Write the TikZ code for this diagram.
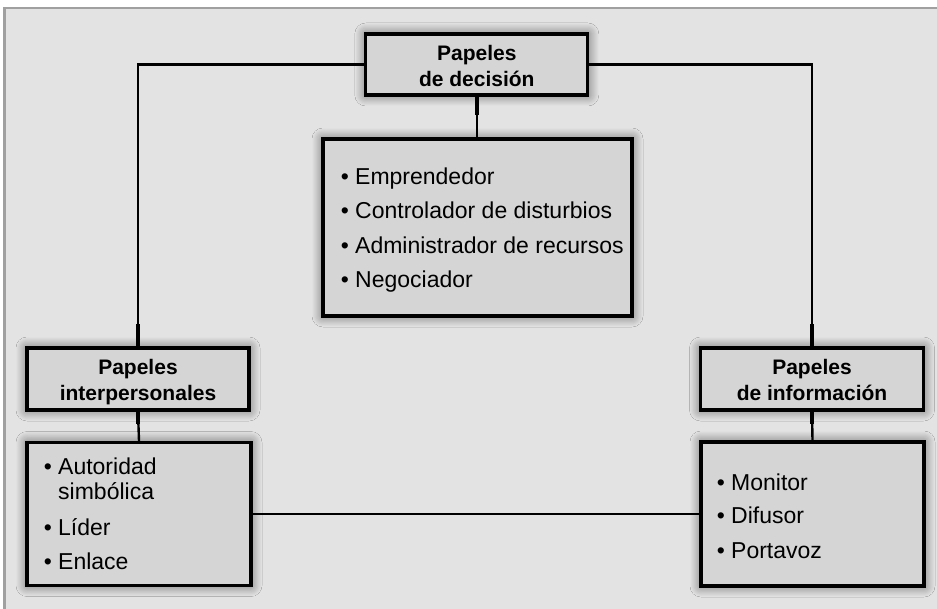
\documentclass[tikz,border=0pt]{standalone}
\usepackage{fontspec}
\setmainfont{Liberation Sans}
\usetikzlibrary{shadows.blur}
\definecolor{bgc}{RGB}{227,227,227}
\definecolor{boxc}{RGB}{213,213,213}
\definecolor{framec}{RGB}{160,160,160}
\newcommand{\bul}[1]{\llap{\textbullet\ }#1}
\begin{document}
\begin{tikzpicture}[x=1pt,y=-1pt,
  box/.style={draw=black, line width=3.2pt, fill=boxc, rectangle, inner sep=0pt,
    blur shadow={shadow xshift=0pt,shadow yshift=0pt,shadow blur radius=11pt,shadow blur steps=12,shadow opacity=60}},
  hd/.style={anchor=base, inner sep=0pt, font=\fontsize{21}{26}\selectfont\bfseries},
  itm/.style={anchor=base west, inner sep=0pt, font=\fontsize{23}{34}\selectfont},
  link/.style={line width=2.4pt, draw=black},
  stub/.style={line width=4.2pt, draw=black}]
\useasboundingbox (0,0) rectangle (937,609);
\fill[white] (0,0) rectangle (937,609);
\fill[bgc] (3,8) rectangle (937,609);
\draw[framec, line width=2.5pt] (4.25,609) -- (4.25,8.25) -- (937,8.25);

% boxes
\node[box, minimum width=222pt, minimum height=61pt] (dec) at (476.8,64.5) {};
\node[box, minimum width=309pt, minimum height=177pt] (cen) at (477.5,227.5) {};
\node[box, minimum width=222pt, minimum height=62pt] (inter) at (138,379) {};
\node[box, minimum width=224pt, minimum height=143pt] (icont) at (139,514) {};
\node[box, minimum width=223pt, minimum height=62pt] (info) at (812,379) {};
\node[box, minimum width=223pt, minimum height=144pt] (fcont) at (812.5,514) {};

% connectors
\draw[link] (dec.west) -- (dec.west -| inter.north) -- (inter.north);
\draw[link] (dec.east) -- (dec.east -| info.north) -- (info.north);
\draw[link] (dec.south) -- (dec.south |- cen.north);
\draw[link] (inter.south) -- (icont.north);
\draw[link] (info.south) -- (fcont.north);
\draw[link] (icont.east) -- (fcont.west);
\draw[stub] (inter.north) -- ++(0,-22);
\draw[stub] (info.north) -- ++(0,-22);
\draw[stub] (dec.south) -- ++(0,18);
\draw[stub] (inter.south) -- ++(0,12);
\draw[stub] (info.south) -- ++(0,12);

% header texts
\node[hd] (dec1) at (476.8,61) {Papeles};
\node[hd] (dec2) at (476.8,87) {de decisión};
\node[hd] (inter1) at (138,375) {Papeles};
\node[hd] (inter2) at (138,401) {interpersonales};
\node[hd] (info1) at (812,375) {Papeles};
\node[hd] (info2) at (812,401) {de información};

% item texts
\node[itm] (c1) at (355,185) {\bul{Emprendedor}};
\node[itm] (c2) at (355,219) {\bul{Controlador de disturbios}};
\node[itm] (c3) at (355,254) {\bul{Administrador de recursos}};
\node[itm] (c4) at (355,288) {\bul{Negociador}};

\node[itm] (l1) at (58,474) {\bul{Autoridad}};
\node[itm] (l2) at (58,499) {simbólica};
\node[itm] (l3) at (58,535) {\bul{Líder}};
\node[itm] (l4) at (58,569) {\bul{Enlace}};

\node[itm] (r1) at (731,490) {\bul{Monitor}};
\node[itm] (r2) at (731,523) {\bul{Difusor}};
\node[itm] (r3) at (731,558) {\bul{Portavoz}};
\end{tikzpicture}
\end{document}
